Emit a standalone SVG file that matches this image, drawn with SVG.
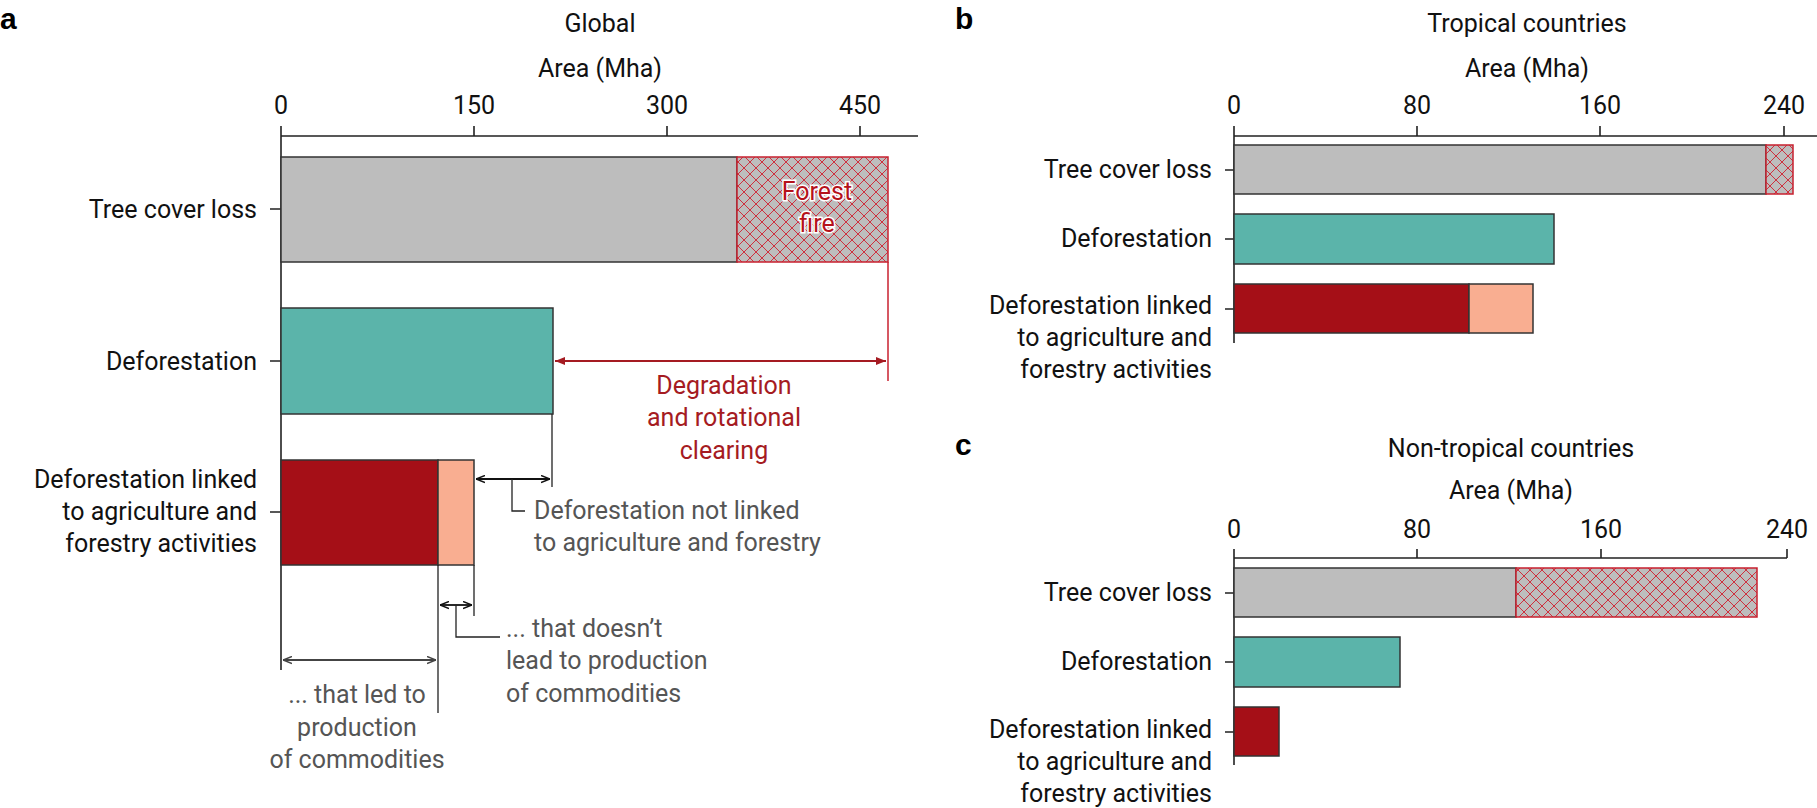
<svg xmlns="http://www.w3.org/2000/svg" width="1817" height="808" viewBox="0 0 1817 808">
<style>
text{font-family:Roboto,"Liberation Sans",sans-serif;font-size:25px;fill:#111}
.r{text-anchor:end}.m{text-anchor:middle}
.pl{font-family:"Liberation Sans",Arial,sans-serif;font-weight:bold;font-size:30px;fill:#000}
.ax{stroke:#222;stroke-width:1.6;fill:none}
.bar{stroke:#333;stroke-width:1.5}
.gray{fill:#bdbdbd}.teal{fill:#5bb4aa}.dred{fill:#a50f17}.sal{fill:#f9ae91}
.hat{fill:url(#hatch);stroke:#c8202f;stroke-width:1.5}
.note{fill:#555}
.red{fill:#a51b22}
.ff{fill:#b5121b;stroke:#fff;stroke-width:3;paint-order:stroke;text-anchor:middle}
.ln{stroke:#222;stroke-width:1.3;fill:none}
</style>
<defs>
<pattern id="hatch" width="12" height="12" patternUnits="userSpaceOnUse">
<rect width="12" height="12" fill="#bdbdbd"/>
<path d="M0 0L12 12M12 0L0 12" stroke="#d02030" stroke-width="0.9"/>
</pattern>
<marker id="ab" viewBox="0 0 10 10" refX="10" refY="5" markerWidth="9" markerHeight="9" orient="auto-start-reverse" markerUnits="userSpaceOnUse"><path d="M0 1L10 5L0 9" fill="none" stroke="#111" stroke-width="1.5"/></marker>
<marker id="ag" viewBox="0 0 10 10" refX="10" refY="5" markerWidth="9" markerHeight="9" orient="auto-start-reverse" markerUnits="userSpaceOnUse"><path d="M0 1L10 5L0 9" fill="none" stroke="#444" stroke-width="1.5"/></marker>
<marker id="ar" viewBox="0 0 10 10" refX="10" refY="5" markerWidth="10" markerHeight="10" orient="auto-start-reverse" markerUnits="userSpaceOnUse"><path d="M0 1L10 5L0 9Z" fill="#a51b22"/></marker>
</defs>

<g id="panel-a">
<text class="pl" x="0" y="29">a</text>
<text class="m" x="600" y="32">Global</text>
<text class="m" x="600" y="77">Area (Mha)</text>
<g class="m"><text class="m" x="281" y="114">0</text><text class="m" x="474" y="114">150</text><text class="m" x="667" y="114">300</text><text class="m" x="860" y="114">450</text></g>
<path class="ax" d="M281 136H918M281 126V136M474 126V136M667 126V136M860 126V136M281 136V670M270 209H281M270 361H281M270 512H281"/>
<g id="a-tcl"><rect class="bar gray" x="281" y="157" width="456" height="105"/><rect class="hat" x="737" y="157" width="151" height="105"/>
<text class="ff" x="817" y="200">Forest</text><text class="ff" x="817" y="232">fire</text>
<text class="r" x="257" y="218">Tree cover loss</text></g>
<g id="a-def"><rect class="bar teal" x="281" y="308" width="272" height="106"/><text class="r" x="257" y="370">Deforestation</text></g>
<g id="a-agr"><rect class="bar dred" x="281" y="460" width="157" height="105"/><rect class="bar sal" x="438" y="460" width="36" height="105"/>
<text class="r" x="257" y="488">Deforestation linked</text><text class="r" x="257" y="520">to agriculture and</text><text class="r" x="257" y="552">forestry activities</text></g>
<g id="a-notes">
<text class="m red" x="724" y="394">Degradation</text><text class="m red" x="724" y="426">and rotational</text><text class="m red" x="724" y="459">clearing</text>
<text class="note" x="534" y="519">Deforestation not linked</text><text class="note" x="534" y="551">to agriculture and forestry</text>
<text class="note" x="506" y="637">... that doesn’t</text><text class="note" x="506" y="669">lead to production</text><text class="note" x="506" y="702">of commodities</text>
<text class="m note" x="357" y="703">... that led to</text><text class="m note" x="357" y="736">production</text><text class="m note" x="357" y="768">of commodities</text>
</g>
</g>

<g id="connectors">
<path d="M888 262V381" stroke="#c8202f" stroke-width="1.5"/>
<path d="M555 361H886" stroke="#a51b22" stroke-width="1.8" marker-start="url(#ar)" marker-end="url(#ar)"/>
<path class="ln" d="M552 414V487M438 565V713M474 565V616"/>
<path d="M476 479H550" stroke="#111" stroke-width="1.8" marker-start="url(#ab)" marker-end="url(#ab)"/>
<path class="ln" d="M512 479V511H525"/>
<path d="M440 605H472" stroke="#111" stroke-width="1.8" marker-start="url(#ab)" marker-end="url(#ab)"/>
<path class="ln" d="M456 605V637H500"/>
<path d="M283 660H436" stroke="#444" stroke-width="1.8" marker-start="url(#ag)" marker-end="url(#ag)"/>
</g>

<g id="panel-b">
<text class="pl" x="955" y="29">b</text>
<text class="m" x="1527" y="32">Tropical countries</text>
<text class="m" x="1527" y="77">Area (Mha)</text>
<text class="m" x="1234" y="114">0</text><text class="m" x="1417" y="114">80</text><text class="m" x="1600" y="114">160</text><text class="m" x="1784" y="114">240</text>
<path class="ax" d="M1234 136H1817M1234 126V136M1417 126V136M1600 126V136M1784 126V136M1234 136V343M1225 170H1234M1225 239H1234M1225 309H1234"/>
<g id="b-tcl"><rect class="bar gray" x="1234" y="145" width="532" height="49"/><rect class="hat" x="1766" y="145" width="27" height="49"/><text class="r" x="1212" y="178">Tree cover loss</text></g>
<g id="b-def"><rect class="bar teal" x="1234" y="214" width="320" height="50"/><text class="r" x="1212" y="247">Deforestation</text></g>
<g id="b-agr"><rect class="bar dred" x="1234" y="284" width="235" height="49"/><rect class="bar sal" x="1469" y="284" width="64" height="49"/>
<text class="r" x="1212" y="314">Deforestation linked</text><text class="r" x="1212" y="346">to agriculture and</text><text class="r" x="1212" y="378">forestry activities</text></g>
</g>

<g id="panel-c">
<text class="pl" x="955" y="455">c</text>
<text class="m" x="1511" y="457">Non-tropical countries</text>
<text class="m" x="1511" y="499">Area (Mha)</text>
<text class="m" x="1234" y="538">0</text><text class="m" x="1417" y="538">80</text><text class="m" x="1601" y="538">160</text><text class="m" x="1787" y="538">240</text>
<path class="ax" d="M1234 558H1787M1234 549V558M1417 549V558M1601 549V558M1787 549V558M1234 558V765M1225 593H1234M1225 662H1234M1225 732H1234"/>
<g id="c-tcl"><rect class="bar gray" x="1234" y="568" width="282" height="49"/><rect class="hat" x="1516" y="568" width="241" height="49"/><text class="r" x="1212" y="601">Tree cover loss</text></g>
<g id="c-def"><rect class="bar teal" x="1234" y="637" width="166" height="50"/><text class="r" x="1212" y="670">Deforestation</text></g>
<g id="c-agr"><rect class="bar dred" x="1234" y="707" width="45" height="49"/>
<text class="r" x="1212" y="738">Deforestation linked</text><text class="r" x="1212" y="770">to agriculture and</text><text class="r" x="1212" y="802">forestry activities</text></g>
</g>
</svg>
